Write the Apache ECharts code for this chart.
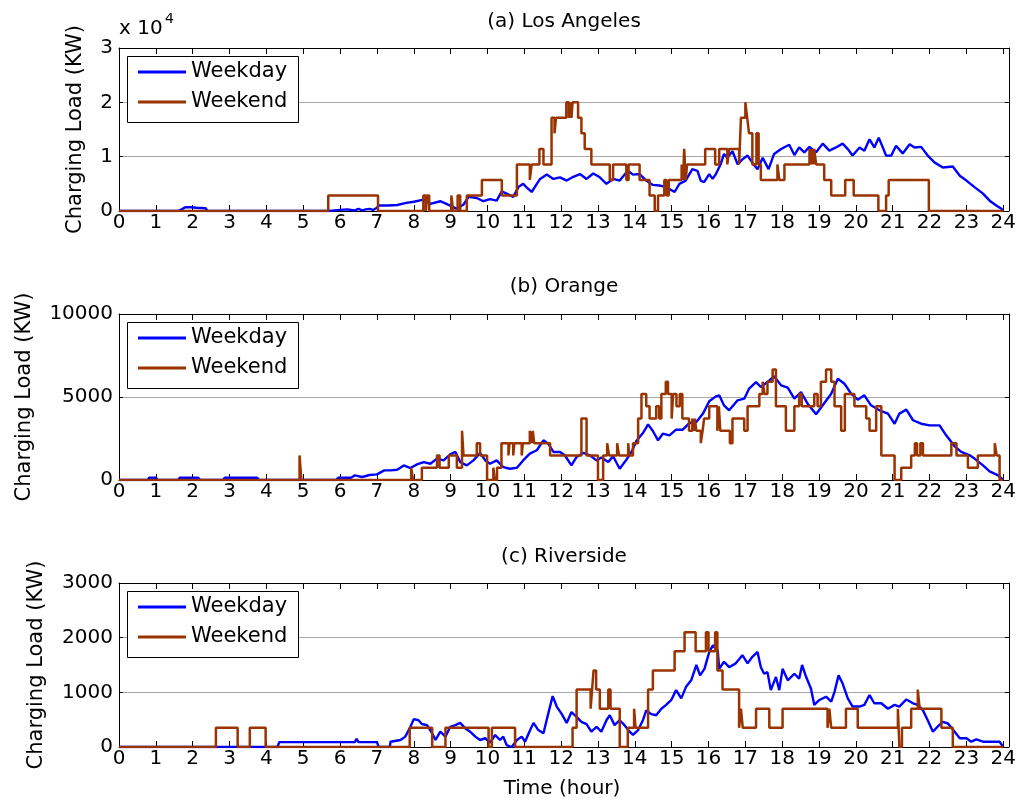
<!DOCTYPE html>
<html>
<head>
<meta charset="utf-8">
<script src="https://cdn.jsdelivr.net/npm/echarts@6/dist/echarts.min.js"></script>
<style>
html,body{margin:0;padding:0;background:#fff;}
#c{width:1019px;height:804px;}
</style>
</head>
<body>
<div id="c"></div>
<script>
// ---------- tick labels / titles ----------
const xTicks = [0,1,2,3,4,5,6,7,8,9,10,11,12,13,14,15,16,17,18,19,20,21,22,23,24];
const titles = ['(a) Los Angeles', '(b) Orange', '(c) Riverside'];
const yMax = [30000, 10000, 3000];
const yStep = [10000, 5000, 1000];
const seriesNames = ['Weekday', 'Weekend'];

// ---------- (a) Los Angeles ----------
const laWeekdayT = [0,0.7,0.75,0.8,1.6,1.7,1.8,1.95,2.0,2.1,2.35,2.4,5.7,5.75,6.0,6.2,6.4,6.5,6.6,6.7,6.8,6.9,7.0,7.05,7.3,7.55,7.8,8.0,8.27,8.45,8.72,8.99,9.17,9.35,9.49,9.71,9.89,10.07,10.25,10.39,10.52,10.7,10.84,10.97,11.07,11.2,11.34,11.43,11.61,11.79,11.97,12.15,12.33,12.51,12.69,12.87,13.05,13.23,13.41,13.59,13.81,13.95,14.13,14.31,14.49,14.67,14.85,15.08,15.21,15.38,15.56,15.7,15.79,15.88,16.02,16.11,16.2,16.33,16.42,16.51,16.65,16.79,16.92,17.06,17.19,17.33,17.47,17.63,17.78,17.97,18.19,18.33,18.46,18.6,18.74,18.92,19.1,19.28,19.46,19.64,19.78,19.91,20.1,20.23,20.37,20.5,20.62,20.82,20.96,21.09,21.27,21.46,21.59,21.77,21.95,22.14,22.36,22.63,22.82,23.0,23.22,23.45,23.63,23.81,23.95,24.0];
const laWeekdayV = [0,0,200,0,0,300,700,700,500,600,500,0,0,200,200,300,100,400,100,300,400,200,600,1000,1000,1100,1500,1700,2100,1300,1800,1000,400,1200,2600,2400,1800,2200,1900,3600,3200,2600,4400,5000,4300,3500,5000,5900,6700,5900,6200,5600,6300,6800,5900,6900,6200,5000,5900,5600,7400,6700,6800,5600,4800,4700,4400,3500,5000,5600,7700,7400,5600,5300,6800,5900,6800,8600,10500,9800,11000,8600,9500,10200,8900,7700,9800,7700,10500,11400,12200,10300,11700,10800,11800,10800,12400,11100,11700,12400,11400,10200,11700,11100,13200,11700,13500,10200,10200,12000,10600,12300,11700,11800,10200,8900,8000,8200,6500,5600,4400,3200,1900,1000,400,0];
const laWeekendT = [0,5.68,7.03,8.26,8.33,8.36,8.42,9.02,9.07,9.19,9.26,9.44,9.85,10.39,10.8,11.15,11.2,11.41,11.52,11.74,11.82,11.86,12.14,12.21,12.24,12.28,12.31,12.46,12.55,12.64,12.82,13.32,13.41,13.77,13.83,14.13,14.4,14.54,14.63,14.8,14.86,14.92,15.27,15.31,15.34,15.38,15.42,15.91,16.18,16.29,16.51,16.56,16.83,16.88,17.0,17.05,17.1,17.19,17.3,17.36,17.42,17.87,17.92,18.06,18.74,18.78,18.8,18.85,18.87,18.92,19.14,19.33,19.71,19.94,20.61,20.82,20.89,21.98,24.0];
const laWeekendV = [0,2860,0,2860,0,2860,0,2860,0,2860,0,2860,5710,2860,8570,5710,8570,11430,8570,17140,14290,17140,20000,17140,20000,17140,20000,17140,14290,11430,8570,5710,8570,5710,8570,5710,2860,0,2860,5710,2860,5710,8570,5710,11430,5710,8570,11430,8570,11430,8570,11430,8570,17140,20000,17140,14290,8570,14290,8570,5710,8570,5710,8570,11430,8570,11430,8570,11430,8570,5710,2860,5710,2860,0,2860,5710,0,0];

// ---------- (b) Orange ----------
const orWeekdayT = [0,0.78,0.82,1.0,1.05,1.6,1.65,2.15,2.2,2.83,2.87,3.75,3.8,5.9,5.95,6.3,6.4,6.6,6.8,7.0,7.2,7.37,7.55,7.73,7.91,8.09,8.27,8.45,8.63,8.81,8.99,9.13,9.26,9.44,9.62,9.8,9.94,10.07,10.25,10.43,10.61,10.8,10.97,11.15,11.34,11.52,11.65,11.79,11.97,12.1,12.28,12.42,12.6,12.78,12.96,13.09,13.28,13.41,13.59,13.77,13.91,14.04,14.22,14.36,14.49,14.63,14.76,14.94,15.12,15.3,15.48,15.67,15.85,16.02,16.2,16.29,16.42,16.56,16.79,16.97,17.1,17.29,17.42,17.6,17.78,17.97,18.15,18.33,18.51,18.69,18.92,19.1,19.33,19.51,19.69,19.87,20.05,20.23,20.41,20.64,20.87,21.05,21.18,21.37,21.55,21.77,22.0,22.27,22.45,22.68,22.86,23.09,23.22,23.45,23.63,23.86,24.0];
const orWeekdayV = [0,0,140,140,0,0,140,140,0,0,140,140,0,0,140,140,280,180,300,340,580,580,620,880,720,940,1080,980,1290,1180,1550,1690,1080,880,1180,1630,1180,980,1180,780,680,740,1180,1590,1790,2390,2190,1690,1690,1490,880,1390,1630,1490,1180,1350,1080,1430,680,1220,1690,2350,2830,3350,2950,2390,2790,2690,3030,3030,3430,3490,4000,4740,5040,5100,4500,4200,4800,4900,5500,5900,5600,5900,6250,5700,5560,4900,5300,4600,3960,4500,5200,6100,5800,5200,4840,5100,4500,4200,4000,3390,4000,4240,3600,3390,3290,3290,2690,2030,1690,1490,1290,880,520,280,0];
const orWeekendT = [0,4.9,4.95,7.93,7.98,8.22,8.63,8.7,8.95,9.17,9.31,9.35,9.71,9.8,9.99,10.16,10.2,10.26,10.38,10.57,10.6,10.7,10.73,10.93,10.96,11.15,11.2,11.23,11.27,11.7,12.55,12.69,13.0,13.14,13.25,13.3,13.52,13.57,13.82,13.85,13.95,14.09,14.18,14.31,14.4,14.58,14.66,14.72,14.84,14.9,15.0,15.04,15.13,15.22,15.29,15.47,15.56,15.6,15.63,15.67,15.79,15.84,15.88,16.02,16.24,16.28,16.32,16.58,16.65,16.97,17.06,17.38,17.47,17.52,17.6,17.74,17.83,18.1,18.33,18.46,18.53,18.87,18.96,19.05,19.19,19.33,19.42,19.6,19.7,19.96,20.28,20.37,20.55,20.69,21.05,21.23,21.5,21.6,21.66,21.75,21.82,22.59,22.73,23.04,23.31,23.77,23.82,23.9,24.0];
const orWeekendV = [0,1480,0,740,0,740,1480,740,1480,740,2960,1480,2220,1480,0,740,0,740,2220,1480,2220,1480,2220,1480,2220,2960,2220,2960,2220,1480,3700,1480,0,1480,2220,1480,2220,1480,2220,1480,2220,3700,5180,4440,3700,4440,3700,5180,5920,5180,3700,5180,4440,5180,3700,2960,3700,2960,3700,2960,2220,2960,3700,4440,2960,4440,2960,2220,3700,2960,4440,5180,5920,5180,5920,6660,4440,2960,4440,5180,4440,5180,4440,5920,6660,5920,4440,2960,5180,4440,3700,2960,4440,1480,0,740,1480,2220,1480,2220,1480,2220,1480,740,1480,2220,1480,0,0];

// ---------- (c) Riverside ----------
const rvWeekdayT = [0,4.3,4.35,6.4,6.45,6.5,7.0,7.05,7.35,7.37,7.64,7.77,7.91,8.0,8.13,8.22,8.36,8.5,8.59,8.72,8.86,8.99,9.13,9.26,9.4,9.53,9.67,9.8,9.94,10.07,10.21,10.34,10.43,10.52,10.66,10.8,10.93,11.02,11.16,11.25,11.38,11.52,11.65,11.77,11.88,12.01,12.15,12.28,12.42,12.55,12.69,12.82,12.96,13.09,13.23,13.32,13.45,13.59,13.72,13.86,13.95,14.09,14.22,14.31,14.45,14.58,14.72,14.85,14.99,15.12,15.26,15.39,15.53,15.67,15.77,15.89,16.02,16.12,16.25,16.29,16.42,16.56,16.74,16.92,17.06,17.19,17.33,17.42,17.51,17.6,17.69,17.83,17.92,18.01,18.15,18.33,18.46,18.54,18.65,18.78,18.87,19.01,19.19,19.33,19.42,19.53,19.64,19.78,19.91,20.1,20.23,20.37,20.5,20.69,20.87,21.05,21.18,21.37,21.55,21.68,21.82,21.95,22.09,22.23,22.36,22.5,22.63,22.82,23.0,23.13,23.27,23.45,23.9,24.0];
const rvWeekdayV = [0,0,90,90,150,90,90,0,0,97,128,190,370,510,490,420,400,250,128,280,190,370,400,440,340,280,190,128,160,80,220,128,190,36,0,128,190,97,310,440,310,250,610,930,740,610,440,640,550,460,420,280,370,280,490,580,400,490,400,280,220,310,490,670,600,580,700,770,860,1040,890,1100,1220,1500,1310,1430,1740,1860,1770,1430,1560,1460,1530,1680,1530,1650,1740,1460,1340,1370,1040,1280,1040,1430,1220,1340,1250,1500,1280,1070,770,860,920,830,1010,1310,1160,890,740,740,770,950,800,800,700,770,740,870,800,770,670,490,280,380,460,430,320,160,160,97,140,97,97,0];
const rvWeekendT = [0,2.63,3.22,3.55,3.98,7.89,8.5,8.86,10.03,10.12,10.75,12.31,12.42,12.8,12.84,12.88,12.95,13.05,13.28,13.34,13.59,13.81,13.98,14.02,14.36,14.49,15.08,15.35,15.65,15.93,16.0,16.18,16.24,16.38,16.83,16.88,16.93,17.29,17.65,18.01,19.23,19.28,19.33,19.73,20.05,21.14,21.18,21.25,21.5,21.68,21.73,22.32,22.63,24.0];
const rvWeekendV = [0,350,0,350,0,350,0,350,0,350,0,350,1050,700,1050,1400,1050,700,1050,700,0,350,700,350,1050,1400,1750,2100,1750,2100,1750,2100,1400,1050,350,700,350,700,350,700,350,700,350,700,350,700,0,350,700,1050,700,350,0,0];

// ---------- build ----------
const weekdayT = [laWeekdayT, orWeekdayT, rvWeekdayT];
const weekdayV = [laWeekdayV, orWeekdayV, rvWeekdayV];
const weekendT = [laWeekendT, orWeekendT, rvWeekendT];
const weekendV = [laWeekendV, orWeekendV, rvWeekendV];

const FONT = 'DejaVu Sans';
const gridTop = [48, 314, 583];
const gridH = [163, 166, 164];
const GL = 119, GW = 891;
const XMAX = 24.15;
const BLUE = '#0000ff', BROWN = '#993300';

function zip(t, v) { return t.map((x, i) => [x, v[i]]); }

const grids = [], xAxes = [], yAxes = [], series = [], legends = [], graphics = [];
for (let g = 0; g < 3; g++) {
  grids.push({left: GL, top: gridTop[g], width: GW, height: gridH[g]});
  const axisLine = {show: true, onZero: false, lineStyle: {color: '#000', width: 1}};
  ['bottom', 'top'].forEach(pos => {
    xAxes.push({
      gridIndex: g, type: 'value', position: pos, min: 0, max: XMAX, interval: 1,
      axisLine: axisLine,
      axisTick: {show: true, inside: true, length: 6, lineStyle: {color: '#000', width: 1}},
      axisLabel: {show: pos === 'bottom', color: '#000', fontFamily: FONT, fontSize: 20, margin: 2,
        formatter: v => (xTicks.indexOf(v) >= 0 ? String(v) : '')},
      splitLine: {show: false}
    });
  });
  ['left', 'right'].forEach(pos => {
    yAxes.push({
      gridIndex: g, type: 'value', position: pos, min: 0, max: yMax[g], interval: yStep[g],
      axisLine: axisLine,
      axisTick: {show: true, inside: true, length: 4, lineStyle: {color: '#000', width: 1}},
      axisLabel: {show: pos === 'left', color: '#000', fontFamily: FONT, fontSize: 20, margin: 6,
        formatter: v => (g === 0 ? String(v / 10000) : String(v))},
      splitLine: {show: pos === 'left', lineStyle: {color: '#a8a8a8', width: 1}}
    });
  });
  series.push({
    name: seriesNames[0], type: 'line', xAxisIndex: g * 2, yAxisIndex: g * 2,
    data: zip(weekdayT[g], weekdayV[g]), symbol: 'none', z: 2,
    lineStyle: {color: BLUE, width: 2.4}, itemStyle: {color: BLUE}
  });
  series.push({
    name: seriesNames[1], type: 'line', xAxisIndex: g * 2, yAxisIndex: g * 2, step: 'end',
    data: zip(weekendT[g], weekendV[g]), symbol: 'none', z: 3,
    lineStyle: {color: BROWN, width: 2.5}, itemStyle: {color: BROWN}
  });
  legends.push({
    data: seriesNames.map(n => ({name: n, icon: 'rect'})),
    orient: 'vertical', left: 138, top: gridTop[g] + 13,
    padding: 0, itemGap: 8, itemWidth: 48, itemHeight: 3, z: 10,
    selectedMode: false,
    textStyle: {fontFamily: FONT, fontSize: 21, lineHeight: 22, color: '#000'}
  });
  graphics.push({
    type: 'rect', z: 8,
    shape: {x: 127.5, y: gridTop[g] + 8.5, width: 171, height: 66},
    style: {fill: '#fff', stroke: '#000', lineWidth: 1}
  });
}

const titleY = [22, 287, 557];
for (let g = 0; g < 3; g++) {
  graphics.push({type: 'text', x: 564, y: titleY[g], z: 9,
    style: {text: titles[g], font: '20px "' + FONT + '"', fill: '#000', textAlign: 'center', textVerticalAlign: 'middle'}});
}
const yNameX = [76, 25, 37];
for (let g = 0; g < 3; g++) {
  graphics.push({type: 'text', x: yNameX[g], y: gridTop[g] + gridH[g] / 2, rotation: Math.PI / 2, z: 9,
    style: {text: 'Charging Load (KW)', font: '21px "' + FONT + '"', fill: '#000', textAlign: 'center', textVerticalAlign: 'middle'}});
}
graphics.push({type: 'text', x: 562, y: 789, z: 9,
  style: {text: 'Time (hour)', font: '20px "' + FONT + '"', fill: '#000', textAlign: 'center', textVerticalAlign: 'middle'}});
graphics.push({type: 'text', x: 119, y: 29, z: 9,
  style: {text: 'x 10', font: '20px "' + FONT + '"', fill: '#000', textAlign: 'left', textVerticalAlign: 'middle'}});
graphics.push({type: 'text', x: 165, y: 19, z: 9,
  style: {text: '4', font: '14px "' + FONT + '"', fill: '#000', textAlign: 'left', textVerticalAlign: 'middle'}});

const chart = echarts.init(document.getElementById('c'), null, {renderer: 'canvas'});
chart.setOption({
  animation: false,
  backgroundColor: '#fff',
  grid: grids, xAxis: xAxes, yAxis: yAxes, series: series, legend: legends,
  graphic: graphics
});
</script>
</body>
</html>
